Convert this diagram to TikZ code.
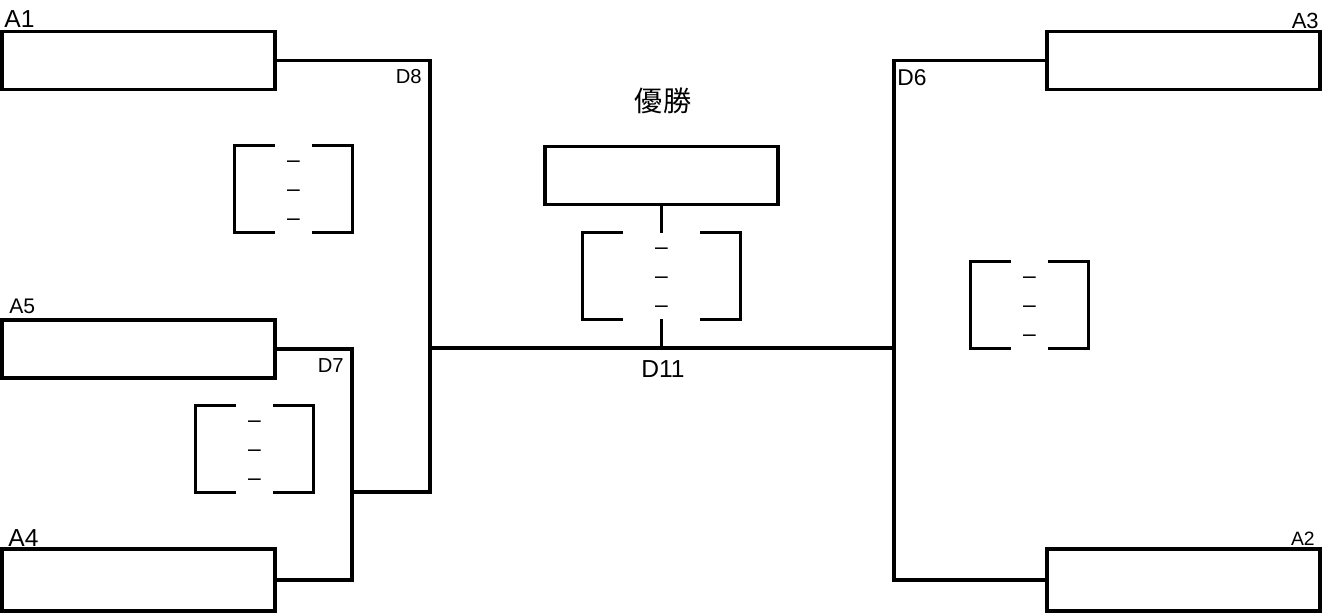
\documentclass[tikz,border=0pt]{standalone}
\usepackage{fontspec}
\setmainfont{Liberation Sans}
\newfontfamily\jpfont{Noto Sans CJK JP}
\usetikzlibrary{positioning}
\newcommand\lblsize[1]{\fontsize{#1}{#1}\selectfont}

\begin{document}
\begin{tikzpicture}[x=0.02cm, y=-0.02cm,
  wire/.style={line width=1.9pt},
  team/.style={rectangle, draw, line width=1.9pt, minimum width=5.46cm, minimum height=1.16cm, inner sep=0pt},
  score/.style={rectangle, minimum width=2.34cm, minimum height=1.72cm, inner sep=0pt},
  nil/.style={font=\lblsize{13}, inner sep=0pt, yshift=-2.3pt},
  tag/.style={inner sep=0pt}]
\useasboundingbox (0,0) rectangle (1323,613);

% entry boxes
\node[team] (a1) at (138.5,60.5) {};
\node[team] (a5) at (138.5,349) {};
\node[team, minimum height=1.24cm] (a4) at (138.5,580) {};
\node[team] (a3) at (1183.5,60.5) {};
\node[team, minimum height=1.24cm] (a2) at (1183.5,580) {};
\node[team, minimum width=4.66cm] (win) at (661.5,175.5) {};

% score brackets
\node[score] (s8) at (293.5,189) {};
\node[score] (s7) at (254.5,449) {};
\node[score] (s6) at (1029.5,305) {};
\node[score, minimum width=3.14cm] (s11) at (661.5,276) {};
\foreach \s in {s8,s7,s6,s11} {
  \draw[wire] (\s.north west) ++(40,0) -| (\s.south west) -- ++(40,0);
  \draw[wire] (\s.north east) ++(-40,0) -| (\s.south east) -- ++(-40,0);
  \foreach \dy [count=\k] in {-29,0,29}
    \path (\s.center) ++(0,\dy) node[nil] (\s-\k) {–};
}

% joins
\coordinate (m8) at (430,348);
\coordinate (m7) at (352,492);
\coordinate (m6) at (894,348);

\draw[wire] (a1.east) -| (m8);
\draw[wire] (a5.east) -| (m7) |- (a4.east);
\draw[wire] (m7) -| (m8);
\draw[wire] (m8) -- (m6);
\draw[wire] (a3.west) -| (m6) |- (a2.west);
\draw[wire] (win.south) -- (s11.north);
\draw[wire] (s11.south) -- (s11.south |- m8);

% labels
\node[tag, anchor=base west, font=\lblsize{14}] (la1) at (4,27) {A1};
\node[tag, anchor=base west, font=\lblsize{12}] (la5) at (9,313) {A5};
\node[tag, anchor=base west, font=\lblsize{14}] (la4) at (8,546) {A4};
\node[tag, anchor=base east, font=\lblsize{12.5}] (la3) at (1319,28) {A3};
\node[tag, anchor=base east, font=\lblsize{11}] (la2) at (1315,545) {A2};
\node[tag, anchor=base east, font=\lblsize{11.5}] (ld8) at (422,83) {D8};
\node[tag, anchor=base east, font=\lblsize{11.5}] (ld7) at (344,372) {D7};
\node[tag, anchor=base west, font=\lblsize{13}] (ld6) at (897,85) {D6};
\node[tag, anchor=base, font=\lblsize{14}] (ld11) at (663,377) {D11};
\node[tag, font=\jpfont\lblsize{16}] (lwin) at (663,101) {優勝};
\end{tikzpicture}
\end{document}
